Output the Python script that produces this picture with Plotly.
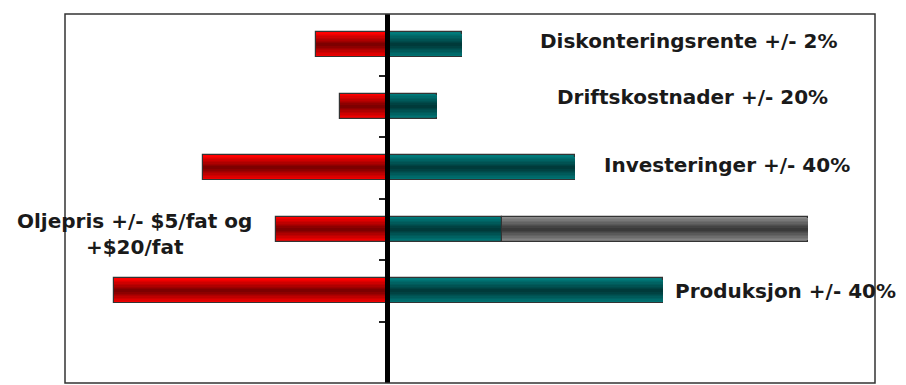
import plotly.graph_objects as go

# ---- data ----
categories = ["Diskonteringsrente +/- 2%", "Driftskostnader +/- 20%",
              "Investeringer +/- 40%", "Oljepris +/- $5/fat og<br>+$20/fat",
              "Produksjon +/- 40%"]
low_values = [-7.1, -4.7, -18.4, -11.1, -27.3]
high_values = [7.5, 5.0, 18.8, 11.5, 27.6]
extra_values = [None, None, None, 30.6, None]   # added on top of high value

# ---- label placement (style / position only) ----
label_x = [15.1, 16.8, 21.5, -25.3, 28.6]
label_anchor = ["left", "left", "left", "center", "left"]
label_shift = [4, 9, 3, -5, 0]

ypos = list(range(len(categories)))

N = 9
BAR_W = 0.41


def lerp(c1, c2, t):
    return "rgb(%d,%d,%d)" % tuple(round(a + (b - a) * t) for a, b in zip(c1, c2))


def gradient_traces(x, base, edge, center):
    traces = []
    for k in range(N):
        f = 1 - k / N
        t = k / (N - 1)
        traces.append(go.Bar(
            y=ypos, x=x, base=base, orientation="h", width=BAR_W * f,
            marker=dict(color=lerp(edge, center, t),
                        line=dict(color="#333333", width=1.2 if k == 0 else 0)),
            showlegend=False, hoverinfo="skip"))
    return traces


fig = go.Figure()
for tr in gradient_traces(low_values, None, (255, 0, 0), (125, 0, 0)):
    fig.add_trace(tr)
for tr in gradient_traces(high_values, None, (0, 122, 122), (0, 58, 58)):
    fig.add_trace(tr)
for tr in gradient_traces(extra_values, high_values, (140, 140, 140), (58, 58, 58)):
    fig.add_trace(tr)

annotations = []
for i, lab in enumerate(categories):
    annotations.append(dict(
        x=label_x[i], y=ypos[i], xref="x", yref="y", text=lab,
        showarrow=False, xanchor=label_anchor[i], yanchor="middle", align="center",
        yshift=label_shift[i],
        font=dict(family="DejaVu Sans", size=20, color="#1a1a1a", weight="bold")))

x_min, x_max = -32.2, 48.8
zero_pos = (0 - x_min) / (x_max - x_min)

fig.update_layout(
    width=906, height=385,
    margin=dict(l=65, r=31, t=14, b=2),
    paper_bgcolor="white", plot_bgcolor="white",
    barmode="overlay", bargap=0,
    xaxis=dict(range=[x_min, x_max], showgrid=False, zeroline=False,
               showticklabels=False, ticks=""),
    yaxis=dict(range=[5.5, -0.5], anchor="free", position=zero_pos,
               showgrid=False, zeroline=False, showticklabels=False,
               tickvals=[v + 0.5 for v in ypos], ticks="outside", ticklen=6,
               tickwidth=1.5, tickcolor="#222222",
               showline=True, linewidth=5, linecolor="black",
               layer="above traces"),
    annotations=annotations,
    shapes=[dict(type="rect", xref="paper", yref="paper", x0=0, x1=1, y0=0, y1=1,
                 line=dict(color="#333333", width=1.5), layer="above")],
)

fig.write_html("out.html")
